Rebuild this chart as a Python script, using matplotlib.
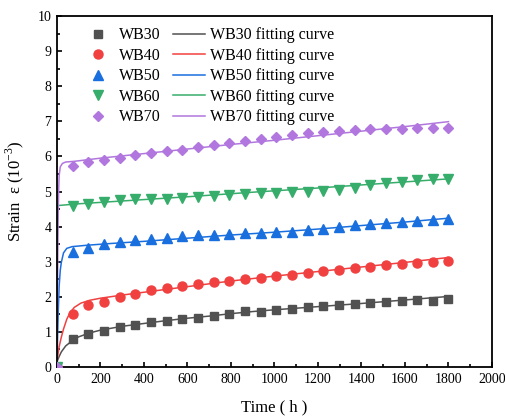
import numpy as np
import matplotlib
matplotlib.use('Agg')
import matplotlib.pyplot as plt
from matplotlib.ticker import MultipleLocator

plt.rcParams['font.family'] = ['Liberation Serif', 'DejaVu Serif']
plt.rcParams['mathtext.fontset'] = 'custom'
plt.rcParams['mathtext.rm'] = 'Liberation Serif'

# measured creep strain (10^-3), sampled every 72 h
t_meas = np.arange(0, 1801, 72)
wb30 = [0.0, 0.80, 0.95, 1.03, 1.15, 1.21, 1.27, 1.32, 1.38, 1.40, 1.46, 1.51, 1.59,
        1.58, 1.62, 1.66, 1.72, 1.74, 1.77, 1.80, 1.82, 1.86, 1.88, 1.90, 1.89, 1.93]
wb40 = [0.0, 1.50, 1.77, 1.86, 1.99, 2.09, 2.18, 2.24, 2.30, 2.36, 2.43, 2.45, 2.50,
        2.53, 2.58, 2.63, 2.69, 2.73, 2.77, 2.81, 2.86, 2.91, 2.94, 2.97, 2.99, 3.02]
wb50 = [0.0, 3.28, 3.40, 3.50, 3.56, 3.62, 3.64, 3.68, 3.72, 3.75, 3.77, 3.80, 3.81,
        3.82, 3.84, 3.86, 3.90, 3.94, 3.99, 4.04, 4.07, 4.11, 4.14, 4.16, 4.19, 4.22]
wb60 = [0.0, 4.60, 4.64, 4.71, 4.76, 4.78, 4.80, 4.80, 4.81, 4.85, 4.87, 4.90, 4.94,
        4.97, 4.97, 4.98, 4.99, 5.02, 5.04, 5.09, 5.18, 5.25, 5.28, 5.32, 5.35, 5.37]
wb70 = [0.0, 5.74, 5.84, 5.90, 5.95, 6.03, 6.09, 6.15, 6.19, 6.26, 6.32, 6.37, 6.43,
        6.51, 6.56, 6.62, 6.66, 6.69, 6.71, 6.74, 6.77, 6.79, 6.79, 6.81, 6.82, 6.82]

# fitted curves, read at selected times
fit30_t = [0, 10, 20, 40, 70, 100, 150, 200, 300, 400, 500, 600, 700, 800, 900, 1000, 1200, 1400, 1600, 1800]
fit30_v = [0.15, 0.30, 0.43, 0.60, 0.75, 0.86, 0.97, 1.05, 1.16, 1.24, 1.32, 1.39, 1.45, 1.52, 1.58, 1.63, 1.72, 1.81, 1.91, 2.01]
fit40_t = [0, 5, 10, 20, 30, 45, 60, 80, 110, 150, 200, 300, 400, 500, 600, 700, 800, 1000, 1200, 1400, 1600, 1800]
fit40_v = [0.15, 0.38, 0.58, 0.85, 1.08, 1.36, 1.55, 1.70, 1.82, 1.90, 1.96, 2.05, 2.13, 2.21, 2.29, 2.37, 2.45, 2.59, 2.72, 2.85, 2.98, 3.12]
fit50_t = [0, 3, 6, 10, 15, 20, 30, 45, 70, 140, 250, 400, 600, 800, 1000, 1200, 1400, 1600, 1800]
fit50_v = [0.0, 0.9, 1.6, 2.3, 2.75, 2.98, 3.25, 3.38, 3.43, 3.47, 3.52, 3.58, 3.67, 3.76, 3.84, 3.93, 4.03, 4.13, 4.24]
fit60_t = [0, 1, 2, 4, 100, 300, 600, 900, 1200, 1500, 1800]
fit60_v = [0.0, 3.2, 4.45, 4.60, 4.65, 4.73, 4.85, 4.98, 5.10, 5.23, 5.36]
fit70_t = [0, 2, 4, 6, 8, 10, 15, 25, 40, 80, 200, 400, 600, 800, 1000, 1200, 1400, 1600, 1800]
fit70_v = [0.0, 1.8, 3.4, 4.5, 5.1, 5.45, 5.70, 5.80, 5.84, 5.86, 5.95, 6.08, 6.21, 6.34, 6.46, 6.59, 6.72, 6.85, 6.99]

names = ['WB30', 'WB40', 'WB50', 'WB60', 'WB70']
meas = [wb30, wb40, wb50, wb60, wb70]
fits = [(fit30_t, fit30_v), (fit40_t, fit40_v), (fit50_t, fit50_v), (fit60_t, fit60_v), (fit70_t, fit70_v)]
colors = ['#515151', '#F14040', '#1A6FDF', '#37AD6B', '#B177DE']
markers = ['s', 'o', '^', 'v', 'D']
msizes = [5.5, 6.5, 6.5, 6.5, 5.5]

fig = plt.figure(figsize=(5.06, 4.19), dpi=100)
ax = fig.add_axes([0.1126, 0.1241, 0.8597, 0.8377])

pts, lines = [], []
for i, name in enumerate(names):
    h, = ax.plot(t_meas, meas[i], linestyle='none', marker=markers[i], ms=msizes[i],
                 color=colors[i], mec=colors[i], label=name, zorder=3 + i)
    pts.append(h)
for i, name in enumerate(names):
    ft, fv = fits[i]
    h, = ax.plot(ft, fv, '-', color=colors[i], lw=1.1, label=name + ' fitting curve', zorder=2)
    lines.append(h)

ax.set_xlim(0, 2000)
ax.set_ylim(0, 10)
ax.xaxis.set_major_locator(MultipleLocator(200))
ax.xaxis.set_minor_locator(MultipleLocator(100))
ax.yaxis.set_major_locator(MultipleLocator(1))
ax.yaxis.set_minor_locator(MultipleLocator(0.5))
ax.tick_params(which='both', direction='in', top=False, right=False, labelsize=10, width=1.2)
ax.tick_params(which='major', length=3.5, pad=4)
ax.tick_params(which='minor', length=2)
for s in ax.spines.values():
    s.set_linewidth(1.3)

ax.set_xlabel('Time ( h )', fontsize=12, labelpad=10)
ax.set_ylabel(r'Strain  ε (10$^{-3}$)', fontsize=12, labelpad=8)

ax.legend(pts + lines, [h.get_label() for h in pts + lines], ncol=2, loc='upper left',
          bbox_to_anchor=(0.035, 0.995), frameon=False, fontsize=11.5,
          handlelength=2.0, handletextpad=0.3, columnspacing=0.8, labelspacing=0.28,
          borderaxespad=0.2)

fig.savefig('out.png', dpi=100, facecolor='white')
